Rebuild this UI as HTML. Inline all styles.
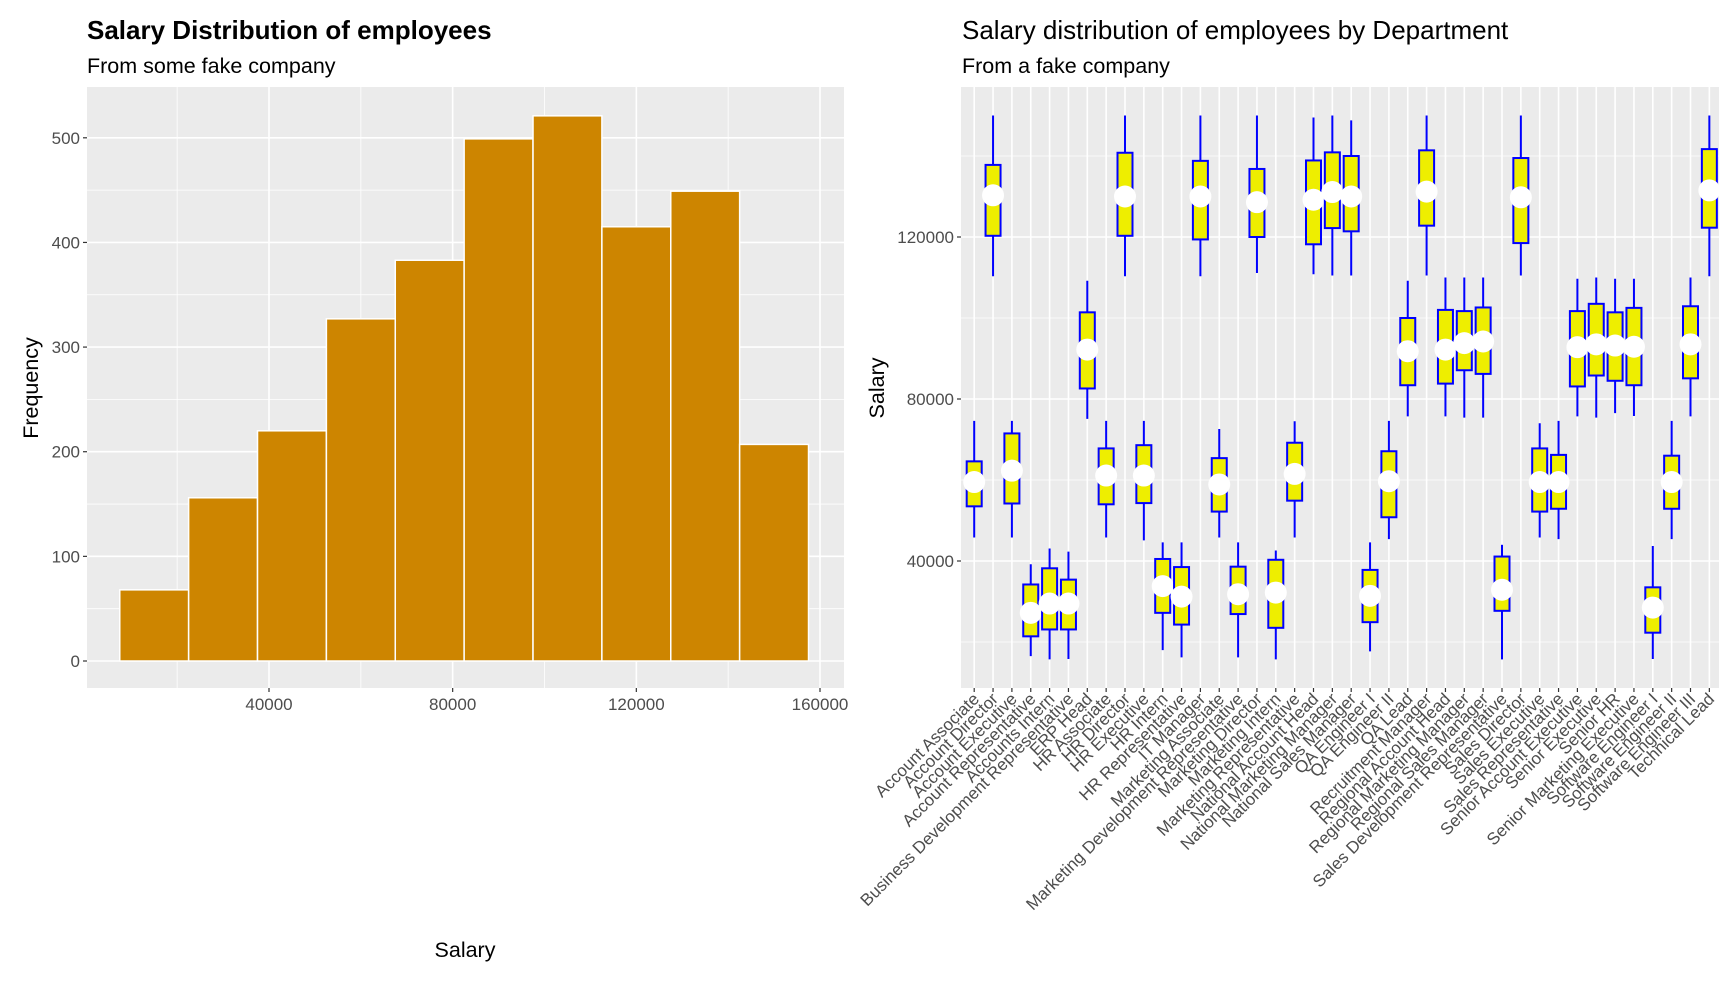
<!DOCTYPE html>
<html><head><meta charset="utf-8"><style>
body{margin:0;background:#fff;}
svg text{font-family:"Liberation Sans",Arial,sans-serif;}
</style></head><body>
<svg id="root" width="1728" height="976" xmlns="http://www.w3.org/2000/svg">
<g id="left"></g>
<g id="right"></g>
</svg>
<script>
// Histogram data
const binStarts = [7500,22500,37500,52500,67500,82500,97500,112500,127500,142500];
const binWidth = 15000;
const counts = [68,156,220,327,383,499,521,415,449,207];
const histXTicks = [40000,80000,120000,160000];
const histYTicks = [0,100,200,300,400,500];

// Boxplot data (salary in thousands)
const depts = ["Account Associate","Account Director","Account Executive","Account Representative","Accounts Intern","Business Development Representative","ERP Head","HR Associate","HR Director","HR Executive","HR Intern","HR Representative","IT Manager","Marketing Associate","Marketing Development Representative","Marketing Director","Marketing Intern","Marketing Representative","National Account Head","National Marketing Manager","National Sales Manager","QA Engineer I","QA Engineer II","QA Lead","Recruitment Manager","Regional Account Head","Regional Marketing Manager","Regional Sales Manager","Sales Development Representative","Sales Director","Sales Executive","Sales Representative","Senior Account Executive","Senior Executive","Senior HR","Senior Marketing Executive","Software Engineer I","Software Engineer II","Software Engineer III","Technical Lead"];
const whiskerHigh = [74.6,150,74.6,39.2,43.1,42.3,109.2,74.6,150,74.6,44.6,44.6,150,72.6,44.6,150,42.6,74.5,149.5,150,148.8,44.6,74.6,109.2,150,110,110,110,44,150,74,74.6,109.7,110,109.7,109.7,43.7,74.6,110,150];
const boxHigh = [64.6,137.8,71.5,34.2,38.2,35.4,101.4,67.8,140.8,68.6,40.5,38.5,138.8,65.4,38.6,136.8,40.3,69.2,138.9,140.9,140,37.8,67.1,100,141.4,102,101.7,102.6,41.1,139.5,67.8,66.2,101.7,103.5,101.4,102.5,33.5,66,102.9,141.7];
const means = [59.5,130.3,62.3,27.2,29.5,29.5,92.2,61.1,130,61.1,33.8,31.2,130,58.9,31.8,128.6,32.2,61.5,129.2,131.1,130,31.4,59.7,91.8,131.2,92.2,93.8,94.2,32.9,129.8,59.5,59.5,92.8,93.5,93.2,92.9,28.5,59.5,93.5,131.5];
const boxLow = [53.5,120.3,54.2,21.4,23.1,23.1,82.6,54,120.3,54.3,27.2,24.3,119.4,52.2,26.9,120,23.5,54.9,118.2,122.2,121.4,24.9,50.8,83.4,122.8,83.8,87.1,86.2,27.7,118.5,52.2,52.9,83.1,85.8,84.5,83.4,22.3,52.9,85.1,122.3];
const whiskerLow = [45.8,110.3,45.8,16.5,15.7,15.8,75.1,45.8,110.3,45.1,18,16.2,110.3,45.8,16.2,111.1,15.7,45.8,110.8,110.5,110.5,17.7,45.4,75.7,110.5,75.7,75.4,75.4,15.7,110.5,45.8,45.4,75.7,75.4,76.5,75.8,15.8,45.4,75.7,110.3];
const boxYTicks = [40000,80000,120000];

const NS="http://www.w3.org/2000/svg";
function mk(parent,tag,attrs,text){const e=document.createElementNS(NS,tag);for(const k in attrs)e.setAttribute(k,attrs[k]);if(text!==undefined)e.textContent=text;parent.appendChild(e);return e;}

// ---------- Left: histogram ----------
const L=document.getElementById('left');
const lp={x0:87,x1:844,y0:87,y1:688};
const hx=v=>269+(v-40000)*(551/120000);
const hy=v=>661-v*(523.2/500);
let e;
e=mk(L,'text',{x:87,y:39,'font-size':26,'font-weight':'bold',fill:'#000'},'Salary Distribution of employees');


e=mk(L,'text',{x:87,y:73,'font-size':21.5,fill:'#000'},'From some fake company');


e=mk(L,'rect',{x:lp.x0,y:lp.y0,width:lp.x1-lp.x0,height:lp.y1-lp.y0,fill:'#ebebeb'});


for(let i=0;i<histXTicks.length;i++){const v=histXTicks[i]-20000;mk(L,'line',{x1:hx(v),x2:hx(v),y1:lp.y0,y2:lp.y1,stroke:'#fff','stroke-width':0.8});}
for(let i=0;i<histYTicks.length;i++){const v=histYTicks[i]+50;mk(L,'line',{x1:lp.x0,x2:lp.x1,y1:hy(v),y2:hy(v),stroke:'#fff','stroke-width':0.8});}
mk(L,'line',{x1:lp.x0,x2:lp.x1,y1:hy(-50),y2:hy(-50),stroke:'#fff','stroke-width':0.8});
for(const v of histXTicks){mk(L,'line',{x1:hx(v),x2:hx(v),y1:lp.y0,y2:lp.y1,stroke:'#fff','stroke-width':1.6});
 mk(L,'line',{x1:hx(v),x2:hx(v),y1:lp.y1,y2:lp.y1+4,stroke:'#333','stroke-width':1.2});
 e=mk(L,'text',{x:hx(v),y:lp.y1+22,'font-size':17,fill:'#4d4d4d','text-anchor':'middle'},String(v));
 
 }
for(const v of histYTicks){mk(L,'line',{x1:lp.x0,x2:lp.x1,y1:hy(v),y2:hy(v),stroke:'#fff','stroke-width':1.6});
 mk(L,'line',{x1:lp.x0-4,x2:lp.x0,y1:hy(v),y2:hy(v),stroke:'#333','stroke-width':1.2});
 e=mk(L,'text',{x:lp.x0-7,y:hy(v)+6,'font-size':17,fill:'#4d4d4d','text-anchor':'end'},String(v));
 
 }
for(let i=0;i<counts.length;i++){
 e=mk(L,'rect',{x:hx(binStarts[i]),y:hy(counts[i]),width:hx(binStarts[i]+binWidth)-hx(binStarts[i]),height:hy(0)-hy(counts[i]),fill:'#cd8500',stroke:'#fff','stroke-width':1.5});
 
 }
e=mk(L,'text',{x:465,y:957,'font-size':21.5,fill:'#000','text-anchor':'middle'},'Salary');


e=mk(L,'text',{x:0,y:0,'font-size':21.5,fill:'#000','text-anchor':'middle',transform:'translate(38,388) rotate(-90)'},'Frequency');



// ---------- Right: boxplot ----------
const R=document.getElementById('right');
const rp={x0:961,x1:1719,y0:87,y1:688};
const bx=i=>974.2+i*18.85;
const by=v=>237-(v-120000)*(162/40000);
e=mk(R,'text',{x:962,y:39,'font-size':26,fill:'#000'},'Salary distribution of employees by Department');


e=mk(R,'text',{x:962,y:73,'font-size':21.5,fill:'#000'},'From a fake company');


e=mk(R,'rect',{x:rp.x0,y:rp.y0,width:rp.x1-rp.x0,height:rp.y1-rp.y0,fill:'#ebebeb'});


for(const v of [20000,60000,100000,140000]) mk(R,'line',{x1:rp.x0,x2:rp.x1,y1:by(v),y2:by(v),stroke:'#fff','stroke-width':0.8});
for(const v of boxYTicks){mk(R,'line',{x1:rp.x0,x2:rp.x1,y1:by(v),y2:by(v),stroke:'#fff','stroke-width':1.6});
 mk(R,'line',{x1:rp.x0-4,x2:rp.x0,y1:by(v),y2:by(v),stroke:'#333','stroke-width':1.2});
 e=mk(R,'text',{x:rp.x0-7,y:by(v)+6,'font-size':17,fill:'#4d4d4d','text-anchor':'end'},String(v));
 
 }
for(let i=0;i<depts.length;i++){const x=bx(i);
 mk(R,'line',{x1:x,x2:x,y1:rp.y0,y2:rp.y1,stroke:'#fff','stroke-width':1.6});
 mk(R,'line',{x1:x,x2:x,y1:rp.y1,y2:rp.y1+4,stroke:'#333','stroke-width':1.2});
 e=mk(R,'text',{x:0,y:0,'font-size':17,fill:'#4d4d4d','text-anchor':'end',transform:`translate(${x+6},${rp.y1+12}) rotate(-45)`},depts[i]);
 
 }
for(let i=0;i<depts.length;i++){const x=bx(i);
 const g=mk(R,'g',{});
 
 
 mk(g,'line',{x1:x,x2:x,y1:by(whiskerHigh[i]*1000),y2:by(whiskerLow[i]*1000),stroke:'#0000ff','stroke-width':2});
 mk(g,'rect',{x:x-7.5,y:by(boxHigh[i]*1000),width:15,height:by(boxLow[i]*1000)-by(boxHigh[i]*1000),fill:'#eeee00',stroke:'#0000ff','stroke-width':2});
 e=mk(g,'circle',{cx:x,cy:by(means[i]*1000),r:11,fill:'#fff'});
 
 }
e=mk(R,'text',{x:0,y:0,'font-size':21.5,fill:'#000','text-anchor':'middle',transform:'translate(884,388) rotate(-90)'},'Salary');


</script>
</body></html>
